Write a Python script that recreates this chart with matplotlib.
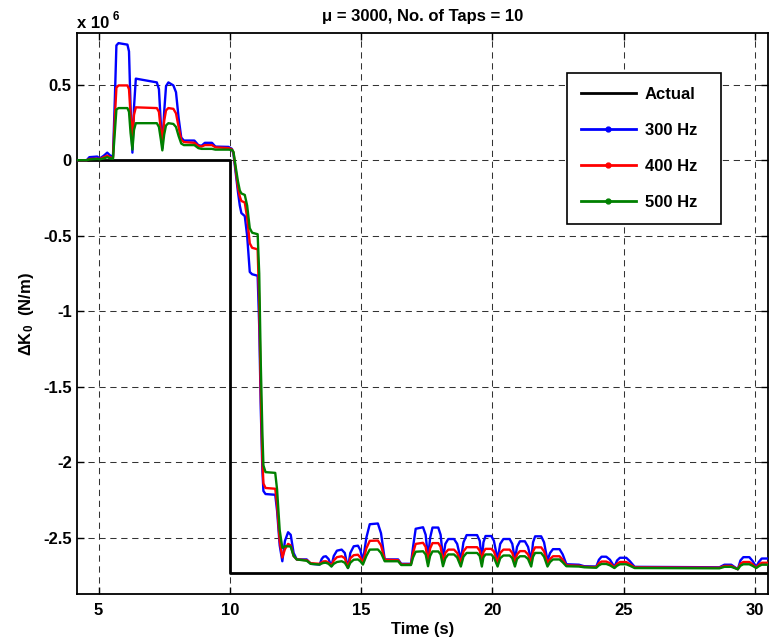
import matplotlib
matplotlib.use("Agg")
import matplotlib.pyplot as plt
from matplotlib.lines import Line2D

# Estimated stiffness change, in units of 1e6 N/m, sampled at t_est (s)
t_est = [
    4.19, 4.55, 4.65, 4.95, 5.05, 5.20, 5.33, 5.45, 5.55, 5.62,
    5.68, 5.76, 6.10, 6.16, 6.22, 6.29, 6.35, 6.42, 7.22, 7.30,
    7.37, 7.43, 7.50, 7.57, 7.66, 7.85, 7.95, 8.05, 8.15, 8.25,
    8.65, 8.80, 8.92, 9.05, 9.32, 9.45, 9.95, 10.08, 10.14, 10.22,
    10.31, 10.38, 10.44, 10.57, 10.66, 10.76, 10.85, 11.06, 11.12, 11.18,
    11.24, 11.28, 11.36, 11.73, 11.80, 11.90, 12.00, 12.10, 12.22, 12.32,
    12.43, 12.55, 12.93, 13.08, 13.42, 13.50, 13.57, 13.66, 13.76, 13.87,
    13.96, 14.08, 14.26, 14.38, 14.50, 14.59, 14.72, 14.88, 14.97, 15.07,
    15.20, 15.33, 15.64, 15.76, 15.90, 16.41, 16.53, 16.90, 16.98, 17.08,
    17.36, 17.46, 17.55, 17.63, 17.72, 17.94, 18.03, 18.12, 18.21, 18.32,
    18.54, 18.66, 18.80, 18.90, 19.02, 19.42, 19.52, 19.60, 19.66, 19.74,
    19.96, 20.06, 20.20, 20.30, 20.42, 20.66, 20.76, 20.86, 20.94, 21.05,
    21.24, 21.36, 21.48, 21.55, 21.63, 21.86, 21.97, 22.10, 22.20, 22.31,
    22.56, 22.68, 22.82, 23.30, 23.50, 23.96, 24.06, 24.16, 24.34, 24.48,
    24.65, 24.75, 24.86, 25.10, 25.24, 25.42, 28.65, 28.84, 29.10, 29.35,
    29.45, 29.56, 29.79, 29.92, 30.05, 30.15, 30.26, 30.55,
]

k_300 = [
    0.0, 0.0, 0.02, 0.024, 0.012, 0.03, 0.05, 0.03, 0.025, 0.40,
    0.76, 0.775, 0.765, 0.72, 0.35, 0.05, 0.35, 0.54, 0.515, 0.47,
    0.25, 0.08, 0.32, 0.49, 0.515, 0.495, 0.45, 0.28, 0.15, 0.13,
    0.13, 0.10, 0.095, 0.115, 0.115, 0.09, 0.088, 0.075, 0.04, -0.08,
    -0.21, -0.30, -0.35, -0.37, -0.50, -0.74, -0.755, -0.765, -1.10, -1.65,
    -2.05, -2.19, -2.21, -2.215, -2.32, -2.55, -2.655, -2.52, -2.463, -2.48,
    -2.60, -2.643, -2.643, -2.672, -2.677, -2.64, -2.625, -2.622, -2.64, -2.688,
    -2.62, -2.585, -2.578, -2.60, -2.70, -2.60, -2.556, -2.552, -2.58, -2.655,
    -2.50, -2.41, -2.405, -2.47, -2.643, -2.643, -2.672, -2.672, -2.56, -2.44,
    -2.43, -2.48, -2.635, -2.50, -2.432, -2.432, -2.48, -2.638, -2.54, -2.508,
    -2.508, -2.54, -2.645, -2.53, -2.482, -2.482, -2.52, -2.65, -2.53, -2.488,
    -2.488, -2.52, -2.645, -2.54, -2.508, -2.508, -2.54, -2.645, -2.56, -2.523,
    -2.523, -2.56, -2.65, -2.53, -2.49, -2.49, -2.53, -2.65, -2.60, -2.575,
    -2.575, -2.61, -2.675, -2.678, -2.688, -2.69, -2.645, -2.625, -2.625, -2.645,
    -2.693, -2.65, -2.632, -2.632, -2.655, -2.692, -2.695, -2.678, -2.678, -2.708,
    -2.65, -2.628, -2.628, -2.655, -2.693, -2.66, -2.637, -2.637,
]

k_400 = [
    0.0, 0.0, 0.008, 0.01, 0.008, 0.02, 0.03, 0.018, 0.015, 0.28,
    0.48, 0.495, 0.495, 0.47, 0.30, 0.14, 0.30, 0.35, 0.345, 0.32,
    0.20, 0.12, 0.26, 0.33, 0.345, 0.34, 0.31, 0.22, 0.135, 0.12,
    0.115, 0.095, 0.09, 0.10, 0.10, 0.085, 0.08, 0.072, 0.05, -0.06,
    -0.18, -0.24, -0.27, -0.28, -0.38, -0.55, -0.58, -0.59, -0.95, -1.55,
    -1.98, -2.14, -2.17, -2.175, -2.28, -2.52, -2.63, -2.575, -2.54, -2.55,
    -2.62, -2.643, -2.648, -2.668, -2.672, -2.662, -2.656, -2.655, -2.664, -2.684,
    -2.65, -2.628, -2.622, -2.635, -2.697, -2.635, -2.615, -2.612, -2.63, -2.665,
    -2.57, -2.52, -2.518, -2.55, -2.645, -2.648, -2.676, -2.676, -2.60, -2.54,
    -2.533, -2.56, -2.66, -2.57, -2.535, -2.535, -2.56, -2.66, -2.60, -2.578,
    -2.578, -2.60, -2.662, -2.59, -2.562, -2.562, -2.585, -2.665, -2.595, -2.573,
    -2.573, -2.59, -2.662, -2.60, -2.578, -2.578, -2.60, -2.662, -2.61, -2.588,
    -2.588, -2.61, -2.665, -2.59, -2.563, -2.563, -2.59, -2.665, -2.64, -2.622,
    -2.622, -2.645, -2.682, -2.685, -2.692, -2.694, -2.668, -2.657, -2.657, -2.668,
    -2.696, -2.672, -2.66, -2.66, -2.675, -2.696, -2.698, -2.686, -2.686, -2.708,
    -2.672, -2.66, -2.66, -2.676, -2.697, -2.678, -2.665, -2.665,
]

k_500 = [
    0.0, 0.0, 0.005, 0.008, 0.006, 0.012, 0.02, 0.012, 0.01, 0.19,
    0.335, 0.345, 0.345, 0.32, 0.18, 0.07, 0.20, 0.245, 0.245, 0.22,
    0.14, 0.065, 0.17, 0.23, 0.245, 0.24, 0.22, 0.16, 0.11, 0.10,
    0.10, 0.08, 0.075, 0.075, 0.075, 0.07, 0.07, 0.068, 0.055, -0.04,
    -0.14, -0.20, -0.22, -0.23, -0.30, -0.45, -0.48, -0.49, -0.75, -1.35,
    -1.80, -2.02, -2.065, -2.07, -2.18, -2.45, -2.566, -2.556, -2.556, -2.558,
    -2.62, -2.643, -2.652, -2.672, -2.677, -2.670, -2.666, -2.665, -2.672, -2.69,
    -2.672, -2.66, -2.655, -2.665, -2.70, -2.665, -2.645, -2.643, -2.655, -2.677,
    -2.62, -2.578, -2.577, -2.60, -2.655, -2.655, -2.68, -2.68, -2.63, -2.592,
    -2.589, -2.61, -2.688, -2.62, -2.59, -2.59, -2.61, -2.688, -2.635, -2.61,
    -2.61, -2.63, -2.69, -2.625, -2.60, -2.60, -2.62, -2.69, -2.63, -2.61,
    -2.61, -2.63, -2.69, -2.635, -2.617, -2.617, -2.635, -2.69, -2.64, -2.622,
    -2.622, -2.64, -2.69, -2.625, -2.60, -2.60, -2.625, -2.69, -2.66, -2.643,
    -2.643, -2.662, -2.688, -2.69, -2.695, -2.698, -2.682, -2.673, -2.673, -2.682,
    -2.70, -2.685, -2.675, -2.675, -2.685, -2.70, -2.702, -2.692, -2.692, -2.708,
    -2.685, -2.675, -2.675, -2.686, -2.70, -2.688, -2.678, -2.678,
]

# True stiffness change (step at t = 10 s)
actual_t = [4.19, 10.0, 10.0, 30.55]
actual_k = [0.0, 0.0, -2.73, -2.73]

x_ticks = [5, 10, 15, 20, 25, 30]
y_ticks = [-2.5, -2.0, -1.5, -1.0, -0.5, 0.0, 0.5]
y_tick_labels = ["-2.5", "-2", "-1.5", "-1", "-0.5", "0", "0.5"]
legend_labels = ["Actual", "300 Hz", "400 Hz", "500 Hz"]
series_colors = ["#0000ff", "#ff0000", "#008000"]

FS = 12

plt.rcParams["font.family"] = ["Liberation Sans", "DejaVu Sans"]
plt.rcParams["font.weight"] = "bold"
plt.rcParams["axes.unicode_minus"] = False
plt.rcParams["mathtext.fontset"] = "custom"
plt.rcParams["mathtext.rm"] = "Liberation Sans:bold"
plt.rcParams["mathtext.bf"] = "Liberation Sans:bold"
plt.rcParams["mathtext.it"] = "Liberation Sans:bold"

fig = plt.figure(figsize=(7.69, 6.43), dpi=100)
ax = fig.add_axes([0.1005, 0.0757, 0.8982, 0.8725])

ax.plot(actual_t, actual_k, color="black", lw=2.0, zorder=3)
for vals, col in zip([k_300, k_400, k_500], series_colors):
    ax.plot(t_est, vals, color=col, lw=1.7, zorder=4)

ax.set_xlim(4.19, 30.5)
ax.set_ylim(-2.874, 0.84)
ax.set_xticks(x_ticks)
ax.set_xticklabels([str(v) for v in x_ticks])
ax.set_yticks(y_ticks)
ax.set_yticklabels(y_tick_labels)

ax.grid(True, color="0.2", linestyle=(0, (6, 4.5)), linewidth=0.75)
ax.tick_params(direction="in", length=5, width=1.0, top=True, right=True,
               labelsize=FS)
ax.tick_params(axis="x", pad=6)
ax.tick_params(axis="y", pad=4)
for lbl in ax.get_xticklabels() + ax.get_yticklabels():
    lbl.set_fontweight("bold")
for sp in ax.spines.values():
    sp.set_linewidth(1.3)

ax.set_title("\u03bc = 3000, No. of Taps = 10", fontsize=FS, fontweight="bold", pad=9)
ax.set_xlabel("Time (s)", fontsize=FS, fontweight="bold", labelpad=3)
ax.set_ylabel(r"$\Delta$K$_0$  (N/m)", fontsize=FS, fontweight="bold", labelpad=5)

fig.text(0.1005, 1 - 28 / 643, "x 10", fontsize=FS, fontweight="bold",
         ha="left", va="baseline")
fig.text(0.1005 + 35 / 769, 1 - 20 / 643, "6", fontsize=8.5, fontweight="bold",
         ha="left", va="baseline")

handles = [Line2D([], [], color="black", lw=2.0)]
for col in series_colors:
    handles.append(Line2D([], [], color=col, lw=2.0, marker="o", markersize=3.5,
                          markevery=[1], markerfacecolor=col, markeredgecolor=col))
leg = ax.legend(handles, legend_labels, loc="upper left",
                bbox_to_anchor=(0.7087, 0.660, 0.2229, 0.269), mode="expand",
                borderaxespad=0, fancybox=False, framealpha=1, edgecolor="black",
                prop={"size": FS, "weight": "bold"}, handlelength=3.3,
                handletextpad=0.55, labelspacing=1.26, borderpad=0.84)
leg.get_frame().set_linewidth(1.2)

fig.savefig("out.png", dpi=100)
